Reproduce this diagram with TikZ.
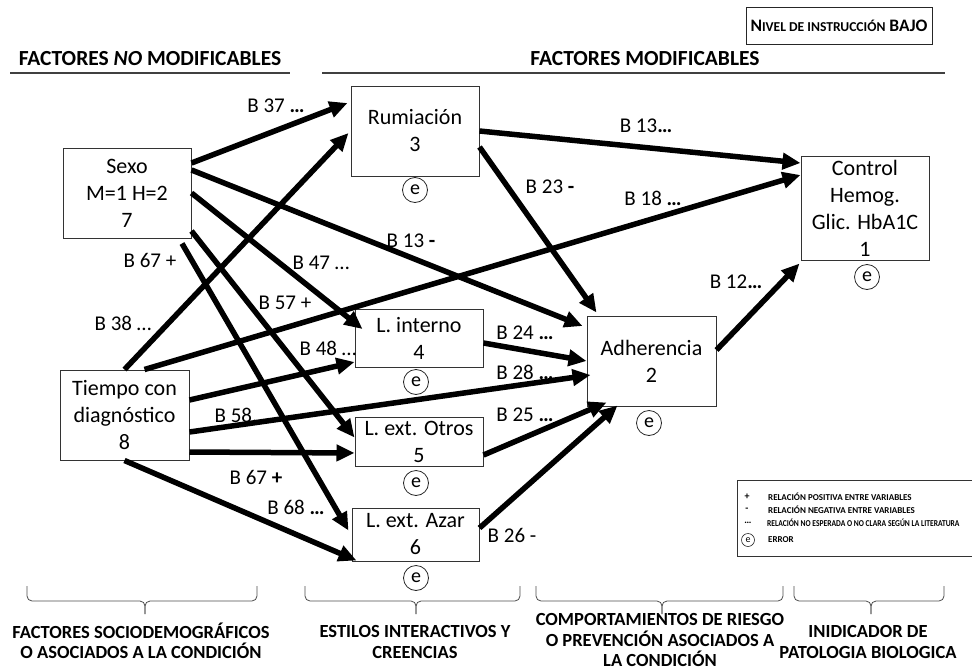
\documentclass[tikz,border=0pt]{standalone}
\usepackage{fontspec}
\setmainfont{Carlito}
\usetikzlibrary{arrows.meta}

\begin{document}
\begin{tikzpicture}[x=1pt,y=-1pt,
  box/.style={draw=black!80, line width=1pt, align=center, inner sep=0pt,
    font=\fontsize{22}{27}\selectfont},
  err/.style={circle, draw=black!85, line width=0.8pt, inner sep=0pt,
    minimum size=25pt, font=\fontsize{20}{20}\selectfont},
  link/.style={line width=5.5pt, -{Triangle[length=18pt,width=16pt]}},
  lbl/.style={inner sep=0pt, font=\fontsize{21}{21}\selectfont},
  head/.style={inner sep=0pt, font=\bfseries\fontsize{21.5}{21.5}\selectfont},
  rule/.style={line width=2.2pt, black!75},
  foot/.style={inner sep=0pt, align=center, font=\bfseries\fontsize{18.5}{20.5}\selectfont},
  bracket/.style={line width=0.8pt, black!70, rounded corners=5pt},
  legtxt/.style={inner sep=0pt, anchor=west, font=\bfseries\fontsize{9}{9}\selectfont},
  legsym/.style={inner sep=0pt, font=\bfseries\fontsize{10}{10}\selectfont},
]
\useasboundingbox (0,0) rectangle (972,672);

% ---- level tag and section headers ----
\node[draw=black!85, line width=1pt, minimum width=186pt, minimum height=37pt, inner sep=0pt]
  (nivel) at (839,25.5)
  {\bfseries\fontsize{17.5}{17.5}\selectfont N{\fontsize{13.6}{13.6}\selectfont IVEL DE INSTRUCCIÓN} BAJO};

\node[head] (hno) at (150,59) {FACTORES \textit{NO} MODIFICABLES};
\node[head] (hsi) at (645,59) {FACTORES MODIFICABLES};
\coordinate (r1a) at (10,73);  \coordinate (r1b) at (290,73);
\coordinate (r2a) at (322,73); \coordinate (r2b) at (945,73);
\draw[rule] (r1a) -- (r1b);
\draw[rule] (r2a) -- (r2b);

% ---- variables ----
\node[box, minimum width=128pt, minimum height=90pt] (sexo) at (127,193) {Sexo\\M=1 H=2\\7};
\node[box, minimum width=129pt, minimum height=90pt] (tiempo) at (124.5,415) {Tiempo con\\diagnóstico\\8};
\node[box, minimum width=128pt, minimum height=90pt] (rum) at (415,131) {Rumiación\\3};
\node[box, minimum width=128pt, minimum height=58pt] (lint) at (419,338) {L. interno\\4};
\node[box, minimum width=128pt, minimum height=49pt] (lotros) at (419,441.5) {L. ext. Otros\\5};
\node[box, minimum width=127pt, minimum height=53pt] (lazar) at (415.5,534.5) {L. ext. Azar\\6};
\node[box, minimum width=129pt, minimum height=90pt] (adh) at (651.5,361) {Adherencia\\2};
\node[box, minimum width=128pt, minimum height=104pt] (ctrl) at (865,208) {Control\\Hemog.\\Glic. HbA1C\\1};

% ---- error terms ----
\node[err] (erum) at (415,190) {e};
\node[err] (eint) at (416,382) {e};
\node[err] (eotr) at (416,483) {e};
\node[err] (eaza) at (416,578) {e};
\node[err] (eadh) at (649,423) {e};
\node[err] (ectl) at (867,277) {e};

% ---- path coefficients ----
\node[lbl] (l37) at (276,106) {B 37 \textbf{…}};
\node[lbl] (l38) at (123,323) {B 38 …};
\node[lbl] (l67a) at (150,260) {B 67 +};
\node[lbl] (l47) at (321,263) {B 47 …};
\node[lbl] (l57) at (285,303) {B 57 +};
\node[lbl] (l13b) at (411,241) {B 13 \textbf{-}};
\node[lbl] (l13a) at (646,126) {B 13\textbf{…}};
\node[lbl] (l23) at (550,187) {B 23 \textbf{-}};
\node[lbl] (l18) at (653,198) {B 18 \textbf{…}};
\node[lbl] (l12) at (736,282) {B 12\textbf{…}};
\node[lbl] (l48) at (328,348) {B 48 …};
\node[lbl] (l24) at (525,333) {B 24 \textbf{…}};
\node[lbl] (l28) at (525,372) {B 28 \textbf{…}};
\node[lbl] (l25) at (525,415) {B 25 \textbf{…}};
\node[lbl] (l58) at (236,415) {B 58.};
\node[lbl] (l67b) at (256,477) {B 67 \textbf{+}};
\node[lbl] (l68) at (296,507) {B 68 \textbf{…}};
\node[lbl] (l26) at (512,535) {B 26 -};

% ---- paths ----
\draw[link] ([yshift=30pt]sexo.east) -- ([xshift=-3pt,yshift=28pt]rum.west);
\draw[link] (tiempo.north) -- ([xshift=-2pt,yshift=-2pt]rum.west);
\draw[link] ([yshift=23pt]sexo.east) -- ([xshift=-4pt,yshift=35pt]adh.west);
\draw[link] (sexo.east) -- ([xshift=8pt,yshift=9pt]lint.west);
\draw[link] ([yshift=-38pt]sexo.east) -- ([yshift=4pt]lotros.west);
\draw[link] ([xshift=55pt,yshift=-5pt]sexo.south) -- ([xshift=-3pt,yshift=4pt]lazar.west);
\draw[link] ([xshift=20pt]tiempo.north) -- ([yshift=33pt]ctrl.west);
\draw[link] (rum.east) -- ([yshift=45pt]ctrl.west);
\draw[link] ([yshift=-16pt]rum.east) -- ([xshift=-55pt,yshift=3pt]adh.north);
\draw[link] ([yshift=15pt]tiempo.east) -- ([yshift=-24pt]lint.west);
\draw[link] ([yshift=-17pt]tiempo.east) -- ([xshift=4pt,yshift=-14pt]adh.west);
\draw[link] ([yshift=-37pt]tiempo.east) -- ([yshift=-11.5pt]lotros.west);
\draw[link] (tiempo.south) -- ([xshift=5pt,yshift=1pt]lazar.south west);
\draw[link] ([yshift=-5pt]lint.east) -- (adh.west);
\draw[link] ([yshift=-13.5pt]lotros.east) -- ([xshift=20pt,yshift=4pt]adh.south west);
\draw[link] ([yshift=6.5pt]lazar.east) -- ([xshift=31pt,yshift=1pt]adh.south west);
\draw[link] ([yshift=11pt]adh.east) -- ([xshift=-1pt,yshift=-3pt]ctrl.south west);

% ---- legend ----
\coordinate (lg1) at (975,480); \coordinate (lg2) at (737,480);
\coordinate (lg3) at (737,556); \coordinate (lg4) at (975,556);
\draw[line width=0.9pt, black!80] (lg1) -- (lg2) -- (lg3) -- (lg4);
\node[legsym] (s1) at (747,497) {+};
\node[legsym] (s2) at (747,510) {-};
\node[legsym] (s3) at (748,523) {…};
\node[circle, draw=black!85, line width=0.6pt, inner sep=0pt, minimum size=13pt,
  font=\fontsize{10}{10}\selectfont] (s4) at (748,540) {e};
\node[legtxt] (t1) at (768,497) {RELACIÓN POSITIVA ENTRE VARIABLES};
\node[legtxt] (t2) at (768,510) {RELACIÓN NEGATIVA ENTRE VARIABLES};
\node[legtxt] (t3) at (767,523) {\scalebox{0.84}[1]{RELACIÓN NO ESPERADA O NO CLARA SEGÚN LA LITERATURA}};
\node[legtxt] (t4) at (768,540) {ERROR};

% ---- group brackets and captions ----
\foreach \xa/\xm/\xb in {27/145/257, 305/416/520, 536/662/783, 794/871/944}{
  \draw[bracket] (\xa,586) |- (\xm,601) -- (\xm,614);
  \draw[bracket] (\xb,586) |- (\xm,601) -- (\xm,614);
}
\node[foot] (f1) at (141,641) {FACTORES SOCIODEMOGRÁFICOS\\O ASOCIADOS A LA CONDICIÓN};
\node[foot] (f2) at (415,642) {ESTILOS INTERACTIVOS Y\\CREENCIAS};
\node[foot] (f3) at (660,640) {COMPORTAMIENTOS DE RIESGO\\O PREVENCIÓN ASOCIADOS A\\LA CONDICIÓN};
\node[foot] (f4) at (868,642) {INIDICADOR DE\\PATOLOGIA BIOLOGICA};
\end{tikzpicture}
\end{document}
